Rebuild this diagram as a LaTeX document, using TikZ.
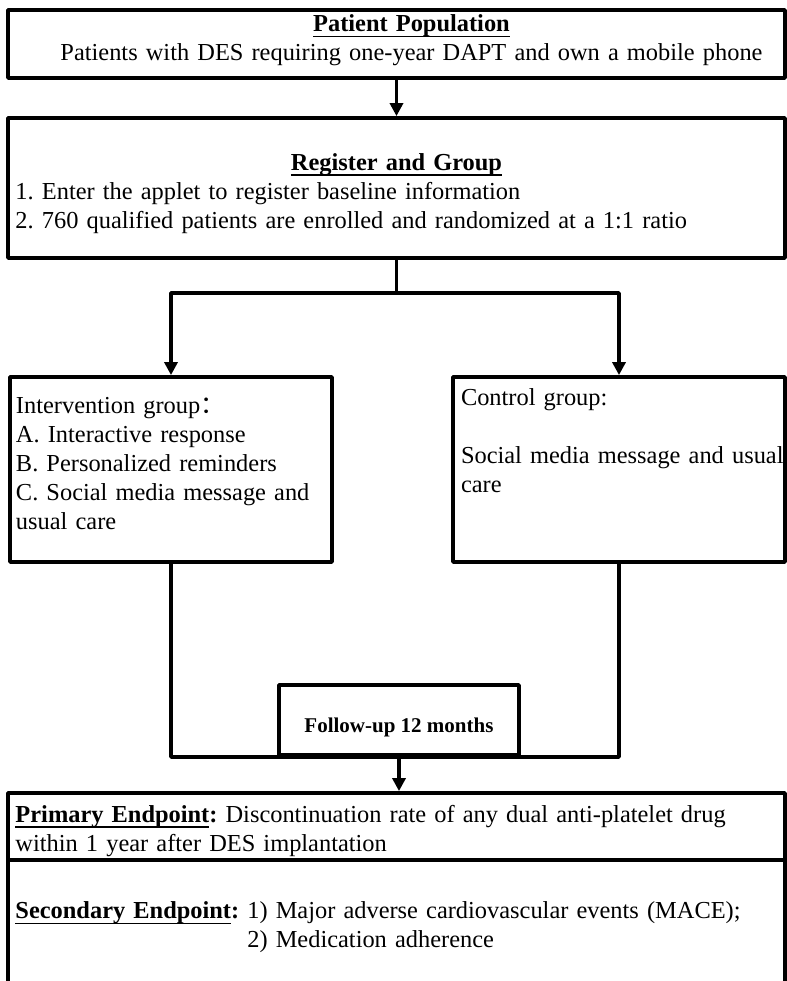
\documentclass[tikz,border=0pt]{standalone}
\usepackage{fontspec}
\setmainfont{Liberation Serif}
\newfontfamily\cjk{Noto Sans CJK SC}
\usetikzlibrary{arrows.meta}
\frenchspacing
\newsavebox\ulbox
\newcommand\ulhead[1]{\sbox\ulbox{\textbf{#1}}\rlap{\rule[-2.6pt]{\wd\ulbox}{0.7pt}}\usebox\ulbox}

\begin{document}
\begin{tikzpicture}[
  x=0.5pt, y=-0.5pt,
  font=\fontsize{12.2}{14.5}\selectfont,
  >={Triangle[length=6.5pt,width=6.5pt]},
  line join=round,
  box/.style={draw, line width=1.9pt, inner xsep=3pt, inner ysep=0pt, align=left},
  wide/.style={box, minimum width=388.5pt, text width=381pt},
  group/.style={box, minimum height=92.5pt},
  link/.style={line width=1.9pt}
]
\path[use as bounding box] (0,0) rectangle (787,981);
\clip (0,0) rectangle (787,981);

\node[wide, minimum height=34pt, align=center] (pop) at (396.5,44)
  {\hspace*{15pt}\ulhead{Patient Population}\\
   \hspace*{15pt}Patients with DES requiring one-year DAPT and own a mobile phone\rule[-6pt]{0pt}{0pt}};
\node[wide, minimum height=70pt] (reg) at (396.5,188)
  {\makebox[381pt]{\rule{0pt}{14pt}\ulhead{Register and Group}}\\
   1. Enter the applet to register baseline information\\
   2. 760 qualified patients are enrolled and randomized at a 1:1 ratio};
\coordinate (split) at (396.5,293);

\node[group, minimum width=161pt, text width=155pt] (interv) at (171,469.5)
  {Intervention group{\cjk ：}\\
   A. Interactive response\\
   B. Personalized reminders\\
   C. Social media message and\\
   usual care\rule[-6pt]{0pt}{0pt}};
\node[group, minimum width=166pt, text width=158pt, inner xsep=4pt] (ctrl) at (619,469.5)
  {Control group:\\
   \mbox{}\\
   \mbox{Social media message and usual}\\
   care\\
   \mbox{}\\
   \mbox{}};
\node[box, minimum width=120pt, minimum height=35pt, align=center,
  font=\bfseries\fontsize{10.5}{12}\selectfont] (follow) at (399,720)
  {\rule{0pt}{15pt}Follow-up 12 months};

\node[wide, minimum height=33.5pt] (prim) at (396.5,826.5)
  {\rule{0pt}{13pt}\ulhead{Primary Endpoint}\textbf{:} Discontinuation rate of any dual anti-platelet drug\\
   within 1 year after DES implantation};
\node[wide, minimum height=63pt] (sec) at (396.5,923)
  {\rule{0pt}{13pt}\ulhead{Secondary Endpoint}\textbf{:} 1) Major adverse cardiovascular events (MACE);\\
   \hphantom{\textbf{Secondary Endpoint:} }2) Medication adherence};

\draw[->, link] (pop) -- (reg);
\draw[link] (reg) -- (split);
\draw[->, link] (split) -| (interv);
\draw[->, link] (split) -| (ctrl);
\draw[link] (interv) |- (follow.south) -| (ctrl);
\draw[->, link] (follow.south) -- (follow.south |- prim.north);
\end{tikzpicture}
\end{document}
